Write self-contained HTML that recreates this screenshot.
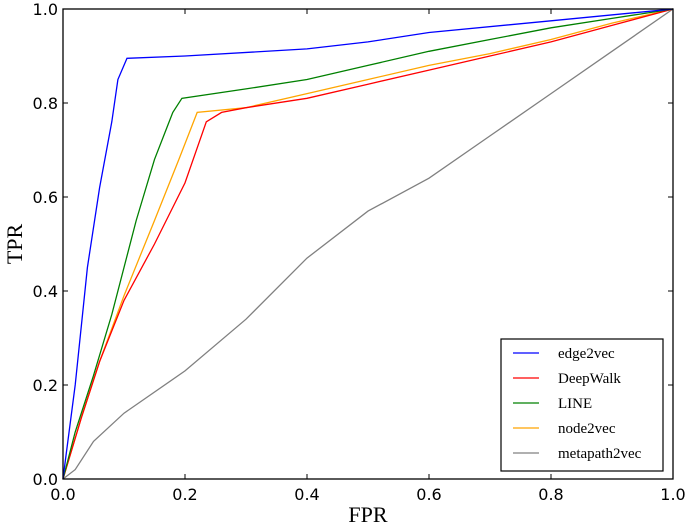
<!DOCTYPE html>
<html><head><meta charset="utf-8"><style>
body{margin:0;background:#fff}
svg text{font-family:"DejaVu Sans","Liberation Sans",sans-serif}
</style></head><body>
<svg id="c" width="685" height="527"></svg>
<script>
const xTicks=[0,0.2,0.4,0.6,0.8,1.0];
const yTicks=[0,0.2,0.4,0.6,0.8,1.0];
const seriesNames=["edge2vec","DeepWalk","LINE","node2vec","metapath2vec"];
const seriesColors=["#0000ff","#ff0000","#008000","#ffa500","#808080"];
const edge2vecFPR=[0,0.005,0.02,0.04,0.06,0.08,0.09,0.105,0.2,0.4,0.5,0.6,0.8,1];
const edge2vecTPR=[0,0.05,0.2,0.45,0.62,0.76,0.85,0.895,0.9,0.915,0.93,0.95,0.975,1];
const deepwalkFPR=[0,0.03,0.06,0.1,0.15,0.2,0.235,0.26,0.3,0.4,0.5,0.6,0.7,0.8,0.9,1];
const deepwalkTPR=[0,0.13,0.25,0.38,0.5,0.63,0.76,0.78,0.79,0.81,0.84,0.87,0.9,0.93,0.965,1];
const lineFPR=[0,0.02,0.05,0.08,0.1,0.12,0.15,0.18,0.195,0.3,0.4,0.5,0.6,0.7,0.8,0.9,1];
const lineTPR=[0,0.1,0.22,0.35,0.45,0.55,0.68,0.78,0.81,0.83,0.85,0.88,0.91,0.935,0.96,0.98,1];
const node2vecFPR=[0,0.03,0.06,0.1,0.15,0.19,0.22,0.3,0.4,0.5,0.6,0.7,0.8,0.9,1];
const node2vecTPR=[0,0.13,0.25,0.39,0.55,0.68,0.78,0.79,0.82,0.85,0.88,0.905,0.935,0.97,1];
const metapathFPR=[0,0.02,0.05,0.1,0.2,0.3,0.4,0.5,0.6,0.7,0.8,0.9,1];
const metapathTPR=[0,0.02,0.08,0.14,0.23,0.34,0.47,0.57,0.64,0.73,0.82,0.91,1];

const svg=document.getElementById('c'),NS='http://www.w3.org/2000/svg';
const L=63,R=673,T=9,B=479;
const sx=v=>L+v*(R-L), sy=v=>B-v*(B-T);
function mk(t,a,p){const e=document.createElementNS(NS,t);for(const k in a)e.setAttribute(k,a[k]);(p||svg).appendChild(e);return e;}
// series
const xs=[edge2vecFPR,deepwalkFPR,lineFPR,node2vecFPR,metapathFPR];
const ys=[edge2vecTPR,deepwalkTPR,lineTPR,node2vecTPR,metapathTPR];
const order=[4,3,1,2,0];
order.forEach(i=>{
  const d=xs[i].map((x,j)=>(j?'L':'M')+sx(x).toFixed(1)+','+sy(ys[i][j]).toFixed(1)).join('');
  const p=mk('path',{d,fill:'none',stroke:seriesColors[i],'stroke-width':1.3});
  
  
});
// frame
const f=mk('rect',{x:L,y:T,width:R-L,height:B-T,fill:'none',stroke:'#000','stroke-width':1.3});


// ticks
xTicks.forEach(v=>{
  mk('line',{x1:sx(v),x2:sx(v),y1:B,y2:B-5,stroke:'#000'});
  mk('line',{x1:sx(v),x2:sx(v),y1:T,y2:T+5,stroke:'#000'});
  const t=mk('text',{x:sx(v),y:B+21,'font-size':16,'text-anchor':'middle'});t.textContent=v.toFixed(1);
  
  
});
yTicks.forEach(v=>{
  mk('line',{x1:L,x2:L+5,y1:sy(v),y2:sy(v),stroke:'#000'});
  mk('line',{x1:R,x2:R-5,y1:sy(v),y2:sy(v),stroke:'#000'});
  const t=mk('text',{x:L-5,y:sy(v)+6,'font-size':16,'text-anchor':'end'});t.textContent=v.toFixed(1);
  
  
});
const xt=mk('text',{x:368,y:522,'font-size':22,'text-anchor':'middle','style':'font-family:"Liberation Serif",serif'});xt.textContent='FPR';


const yt=mk('text',{x:0,y:0,'font-size':22,'text-anchor':'middle','transform':'translate(22,244) rotate(-90)','style':'font-family:"Liberation Serif",serif'});yt.textContent='TPR';


// legend
const lg=mk('g',{});


mk('rect',{x:501,y:339,width:162,height:132,fill:'#fff',stroke:'#000','stroke-width':1.2},lg);
seriesNames.forEach((n,i)=>{
  const y=353+i*25;
  const g=mk('g',{},lg);
  
  
  mk('line',{x1:513,x2:539,y1:y,y2:y,stroke:seriesColors[i],'stroke-width':1.3},g);
  const t=mk('text',{x:558,y:y+5,'font-size':15,'style':'font-family:"Liberation Serif",serif'},g);t.textContent=n;
});
</script>
</body></html>
